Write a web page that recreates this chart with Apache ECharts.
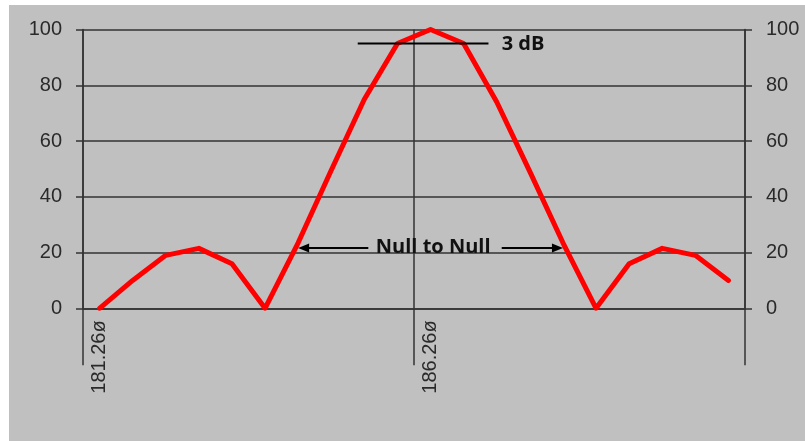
<!DOCTYPE html>
<html>
<head>
<meta charset="utf-8">
<script src="https://cdn.jsdelivr.net/npm/echarts@6/dist/echarts.min.js"></script>
<style>
html,body{margin:0;padding:0;background:#ffffff;width:805px;height:441px;overflow:hidden;}
#c{position:absolute;left:9px;top:5px;width:796px;height:436px;}
</style>
</head>
<body>
<div id="c"></div>
<script>
// ---- data ----
const categories = ['181.26ø','181.76ø','182.26ø','182.76ø','183.26ø','183.76ø','184.26ø','184.76ø','185.26ø','185.76ø',
                    '186.26ø','186.76ø','187.26ø','187.76ø','188.26ø','188.76ø','189.26ø','189.76ø','190.26ø','190.76ø'];
const signal = [0, 10, 19, 21.5, 16, 0, 23.5, 49.5, 75, 95, 100, 95, 74, 49, 23.5, 0, 16, 21.5, 19, 10];
const yTicks = [0, 20, 40, 60, 80, 100];

// annotations in data coordinates (category index, value)
const threeDbLine = [7.8, 11.75, 95];
const threeDbLabel = [12.15, 94.6, '3 dB'];
const nullArrowLeft = [8.12, 6.0, 21.6];
const nullArrowRight = [12.15, 14.0, 21.6];
const nullLabel = [10.08, 21.8, 'Null to Null'];

const chart = echarts.init(document.getElementById('c'));
const axisColor = '#333333';
const labelFont = {fontFamily: 'Liberation Sans, Arial, sans-serif', fontSize: 20, color: '#2a2a2a'};

const yAxisCommon = {
  type: 'value', min: yTicks[0], max: yTicks[yTicks.length - 1], interval: yTicks[1] - yTicks[0],
  axisLine: {show: true, lineStyle: {color: axisColor, width: 1.5}},
  axisTick: {show: true, length: 7, lineStyle: {color: axisColor, width: 1.5}},
  axisLabel: Object.assign({margin: 21}, labelFont)
};

chart.setOption({
  backgroundColor: '#c0c0c0',
  animation: false,
  grid: {left: 74, right: 60, top: 24.5, bottom: 132.7},
  xAxis: {
    type: 'category', data: categories, boundaryGap: true,
    axisLine: {show: true, lineStyle: {color: axisColor, width: 1.5}},
    axisTick: {show: true, interval: 9, length: 57, lineStyle: {color: axisColor, width: 1.5}},
    splitLine: {show: true, interval: 9, lineStyle: {color: axisColor, width: 1.5}},
    axisLabel: Object.assign({interval: 9, rotate: 90, margin: 12}, labelFont)
  },
  yAxis: [
    Object.assign({position: 'left', splitLine: {show: true, lineStyle: {color: axisColor, width: 1.5}}}, yAxisCommon),
    Object.assign({position: 'right', splitLine: {show: false}}, yAxisCommon)
  ],
  series: [{
    type: 'line', data: signal, showSymbol: false, symbol: 'none',
    lineStyle: {color: '#ff0000', width: 5, join: 'round', cap: 'round'},
    z: 5
  }]
});

function px(idx, val) {
  const a = chart.convertToPixel({xAxisIndex: 0, yAxisIndex: 0}, [0, val]);
  const b = chart.convertToPixel({xAxisIndex: 0, yAxisIndex: 0}, [1, val]);
  return [a[0] + (b[0] - a[0]) * idx, a[1]];
}

const black = '#000000';
const g = [];
function line(p1, p2) {
  g.push({type: 'line', shape: {x1: p1[0], y1: p1[1], x2: p2[0], y2: p2[1]},
          style: {stroke: black, lineWidth: 2}, z: 10});
}
function arrow(spec) {
  const p1 = px(spec[0], spec[2]);
  const p2 = px(spec[1], spec[2]);
  const dir = Math.sign(p2[0] - p1[0]);
  line(p1, [p2[0] - dir * 6, p2[1]]);
  g.push({type: 'polygon', shape: {points: [[p2[0], p2[1]], [p2[0] - dir * 11, p2[1] - 4.5], [p2[0] - dir * 11, p2[1] + 4.5]]},
          style: {fill: black}, z: 10});
}
const annFont = 'bold 20px "Open Sans", sans-serif';

line(px(threeDbLine[0], threeDbLine[2]), px(threeDbLine[1], threeDbLine[2]));
const t3 = px(threeDbLabel[0], threeDbLabel[1]);
g.push({type: 'text', x: t3[0], y: t3[1], style: {text: threeDbLabel[2], font: annFont, fill: '#111', align: 'left', verticalAlign: 'middle'}, z: 10});

arrow(nullArrowLeft);
arrow(nullArrowRight);
const tn = px(nullLabel[0], nullLabel[1]);
g.push({type: 'text', x: tn[0], y: tn[1], style: {text: nullLabel[2], font: annFont, fill: '#111', align: 'center', verticalAlign: 'middle'}, z: 10});

chart.setOption({graphic: g});
</script>
</body>
</html>
